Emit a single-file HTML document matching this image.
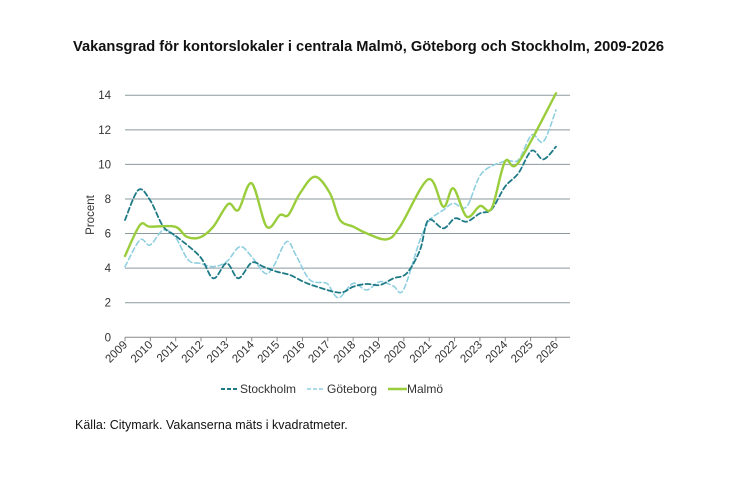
<!DOCTYPE html>
<html><head><meta charset="utf-8"><style>
body{margin:0;background:#fff;width:742px;height:479px;overflow:hidden;font-family:"Liberation Sans",sans-serif;}
</style></head><body>
<svg width="742" height="479" xmlns="http://www.w3.org/2000/svg" font-family="Liberation Sans, sans-serif">
<text x="73" y="51" font-size="14.5" font-weight="bold" fill="#111" textLength="591" lengthAdjust="spacingAndGlyphs">Vakansgrad för kontorslokaler i centrala Malmö, Göteborg och Stockholm, 2009-2026</text>
<g id="grid" stroke="#8a9a9e" stroke-width="1"></g>
<g id="ylab" font-size="11.5" fill="#333" text-anchor="end"></g>
<text transform="translate(94,215) rotate(-90)" font-size="11.5" fill="#333" text-anchor="middle">Procent</text>
<g id="xlab" font-size="11.5" fill="#333"></g>
<g id="lines" fill="none" stroke-linejoin="round" stroke-linecap="round"></g>
<g font-size="12" fill="#333">
<line x1="221" y1="389" x2="239" y2="389" stroke="#1e7a86" stroke-width="2" stroke-dasharray="4,2"/>
<text x="240" y="393">Stockholm</text>
<line x1="307" y1="389" x2="325" y2="389" stroke="#8fcfe0" stroke-width="1.6" stroke-dasharray="4,2"/>
<text x="327" y="393">Göteborg</text>
<line x1="388" y1="389" x2="407" y2="389" stroke="#9acd3c" stroke-width="2.5"/>
<text x="407" y="393">Malmö</text>
</g>
<text x="75" y="429" font-size="12.5" fill="#111">Källa: Citymark. Vakanserna mäts i kvadratmeter.</text>
</svg>
<script>
const NS="http://www.w3.org/2000/svg";
function el(p,t,a,txt){const e=document.createElementNS(NS,t);for(const k in a)e.setAttribute(k,a[k]);if(txt!==undefined)e.textContent=txt;document.getElementById(p).appendChild(e);}
const y0=337.3,u=17.29,x0=125,yr=25.35;
for(let v=0;v<=14;v+=2){const y=y0-v*u;el("grid","line",{x1:125,x2:570,y1:y,y2:y,stroke:v==0?"#888":"#8a9a9e"});el("ylab","text",{x:111,y:y+4},v);}
for(let i=0;i<=17;i++){const x=x0+i*yr;el("grid","line",{x1:x,x2:x,y1:y0,y2:y0+4,stroke:"#888"});el("xlab","text",{transform:`translate(${x+3},${y0+8}) rotate(-45)`,"text-anchor":"end"},2009+i);}
function path(pts){const P=pts.map(p=>[100+p[0]/3,80+p[1]/3]);let d=`M${P[0][0]},${P[0][1]}`;for(let i=0;i<P.length-1;i++){const p0=P[i-1]||P[i],p1=P[i],p2=P[i+1],p3=P[i+2]||p2;d+=`C${p1[0]+(p2[0]-p0[0])/6},${p1[1]+(p2[1]-p0[1])/6} ${p2[0]-(p3[0]-p1[0])/6},${p2[1]-(p3[1]-p1[1])/6} ${p2[0]},${p2[1]}`;}return d;}
const G=[[75,560],[120,480],[150,495],[190,450],[225,470],[265,540],[300,550],[340,560],[380,545],[420,500],[455,530],[495,580],[520,560],[560,485],[590,530],[630,600],[680,610],[700,640],[720,652],[760,610],[800,630],[840,605],[880,618],[910,630],[960,480],[990,420],[1030,390],[1060,370],[1100,380],[1145,280],[1215,243],[1255,240],[1295,165],[1330,185],[1368,90]];
const S=[[75,420],[115,330],[150,360],[190,440],[230,470],[300,530],[340,595],[380,550],[415,595],[455,548],[490,560],[530,575],[570,585],[610,605],[650,620],[720,638],[760,620],[800,612],[840,615],[880,595],[920,580],[960,510],[985,420],[1030,445],[1065,415],[1100,425],[1140,400],[1175,388],[1215,320],[1255,280],[1295,212],[1330,238],[1368,200]];
const M=[[75,528],[120,435],[150,440],[225,440],[260,470],[300,472],[340,440],[385,372],[415,390],[455,310],[500,440],[540,405],[565,405],[600,340],[645,290],[690,340],[720,420],[760,440],[800,460],[860,478],[900,440],[985,298],[1030,380],[1060,325],[1100,410],[1140,378],[1175,385],[1215,245],[1255,248],[1368,40]];
el("lines","path",{d:path(G),stroke:"#8fcfe0","stroke-width":1.6,"stroke-dasharray":"5,3"});
el("lines","path",{d:path(S),stroke:"#1e7a86","stroke-width":1.8,"stroke-dasharray":"5,3"});
el("lines","path",{d:path(M),stroke:"#9acd3c","stroke-width":2.4});
</script>
</body></html>
